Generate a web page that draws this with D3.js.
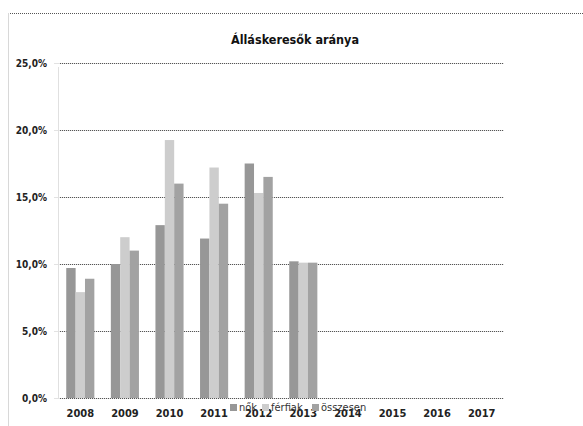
<!DOCTYPE html>
<html>
<head>
<meta charset="utf-8">
<script src="https://cdn.jsdelivr.net/npm/d3@7"></script>
<style>
  body { margin: 0; background: #fff; }
  svg { display: block; font-family: "DejaVu Sans Condensed", "DejaVu Sans", sans-serif; }
</style>
</head>
<body>
<svg width="583" height="426"></svg>
<script>
const YEARS = ["2008", "2009", "2010", "2011", "2012", "2013", "2014", "2015", "2016", "2017"];
const SERIES = ["nők", "férfiak", "összesen"];
const NOK = [9.7, 10.0, 12.9, 11.9, 17.5, 10.2];
const FERFIAK = [7.9, 12.0, 19.25, 17.2, 15.3, 10.1];
const OSSZESEN = [8.9, 11.0, 16.0, 14.5, 16.5, 10.1];
const Y_TICKS = [0, 5, 10, 15, 20, 25];

const COLORS = {
  "nők": "#979797",
  "férfiak": "#cdcdcd",
  "összesen": "#a2a2a2",
};

const PLOT = { left: 58, right: 504, top: 63, bottom: 398 };

const svg = d3.select("svg");
const huFormat = d3.formatLocale({ decimal: ",", thousands: " ", grouping: [3], currency: ["", " Ft"] }).format(".1f");

const x = d3.scaleBand().domain(YEARS).range([PLOT.left, PLOT.right]).paddingInner(0.37).paddingOuter(0.185);
const xInner = d3.scaleBand().domain(SERIES).range([0, x.bandwidth()]);
const y = d3.scaleLinear().domain([0, 25]).range([PLOT.bottom, PLOT.top]);

// frame
svg.append("line")
  .attr("x1", 10).attr("x2", 583).attr("y1", 13.5).attr("y2", 13.5)
  .attr("stroke", "#555").attr("stroke-dasharray", "1,1");
svg.append("line")
  .attr("x1", 8.5).attr("x2", 8.5).attr("y1", 13).attr("y2", 426)
  .attr("stroke", "#d8d8d8");

// title
svg.append("text")
  .attr("x", 295).attr("y", 44)
  .attr("text-anchor", "middle")
  .attr("font-weight", "bold").attr("font-size", 12.5)
  .attr("fill", "#111")
  .text("Álláskeresők aránya");

// gridlines
const grid = svg.append("g");
grid.selectAll("line.base")
  .data(Y_TICKS).enter().append("line")
  .attr("x1", PLOT.left - 4).attr("x2", PLOT.right)
  .attr("y1", (d) => Math.round(y(d)) + 0.5).attr("y2", (d) => Math.round(y(d)) + 0.5)
  .attr("stroke", "#e2e2e2");
grid.selectAll("line.dot")
  .data(Y_TICKS).enter().append("line")
  .attr("x1", PLOT.left + 2).attr("x2", PLOT.right)
  .attr("y1", (d) => Math.round(y(d)) + 0.5).attr("y2", (d) => Math.round(y(d)) + 0.5)
  .attr("stroke", "#555").attr("stroke-dasharray", "1,1");

// y axis line
svg.append("line")
  .attr("x1", PLOT.left + 0.5).attr("x2", PLOT.left + 0.5)
  .attr("y1", PLOT.top + 4).attr("y2", PLOT.bottom)
  .attr("stroke", "#e0e0e0");

// bars
const rows = YEARS.slice(0, NOK.length).map((year, i) => ({
  year,
  values: [
    { key: "nők", value: NOK[i] },
    { key: "férfiak", value: FERFIAK[i] },
    { key: "összesen", value: OSSZESEN[i] },
  ],
}));

svg.append("g")
  .selectAll("g")
  .data(rows)
  .enter()
  .append("g")
  .attr("transform", (d) => `translate(${x(d.year)},0)`)
  .selectAll("rect")
  .data((d) => d.values)
  .enter()
  .append("rect")
  .attr("x", (d) => xInner(d.key))
  .attr("width", xInner.bandwidth())
  .attr("y", (d) => y(d.value))
  .attr("height", (d) => y(0) - y(d.value))
  .attr("fill", (d) => COLORS[d.key]);

// y axis labels
const yAxis = svg.append("g")
  .attr("transform", `translate(${PLOT.left - 8},0)`)
  .call(d3.axisLeft(y).tickValues(Y_TICKS).tickSize(0).tickFormat((d) => huFormat(d) + "%"));
yAxis.select(".domain").remove();
yAxis.selectAll("text")
  .attr("font-family", "'DejaVu Sans Condensed', sans-serif")
  .attr("font-weight", "bold").attr("font-size", 10).attr("fill", "#222");

// x axis labels
const xAxis = svg.append("g")
  .attr("transform", `translate(0,${PLOT.bottom + 8})`)
  .call(d3.axisBottom(x).tickSize(0));
xAxis.select(".domain").remove();
xAxis.selectAll("text")
  .attr("font-family", "'DejaVu Sans Condensed', sans-serif")
  .attr("font-weight", "bold").attr("font-size", 11).attr("fill", "#222");

// legend
const LEGEND_X = [230, 262, 312];
const legend = svg.append("g")
  .selectAll("g")
  .data(SERIES)
  .enter()
  .append("g")
  .attr("transform", (d, i) => `translate(${LEGEND_X[i]},404)`);
legend.append("rect")
  .attr("width", 7).attr("height", 7)
  .attr("fill", (d) => COLORS[d]);
legend.append("text")
  .attr("x", 9).attr("y", 7)
  .attr("font-size", 11).attr("fill", "#333")
  .text((d) => d);
</script>
</body>
</html>
